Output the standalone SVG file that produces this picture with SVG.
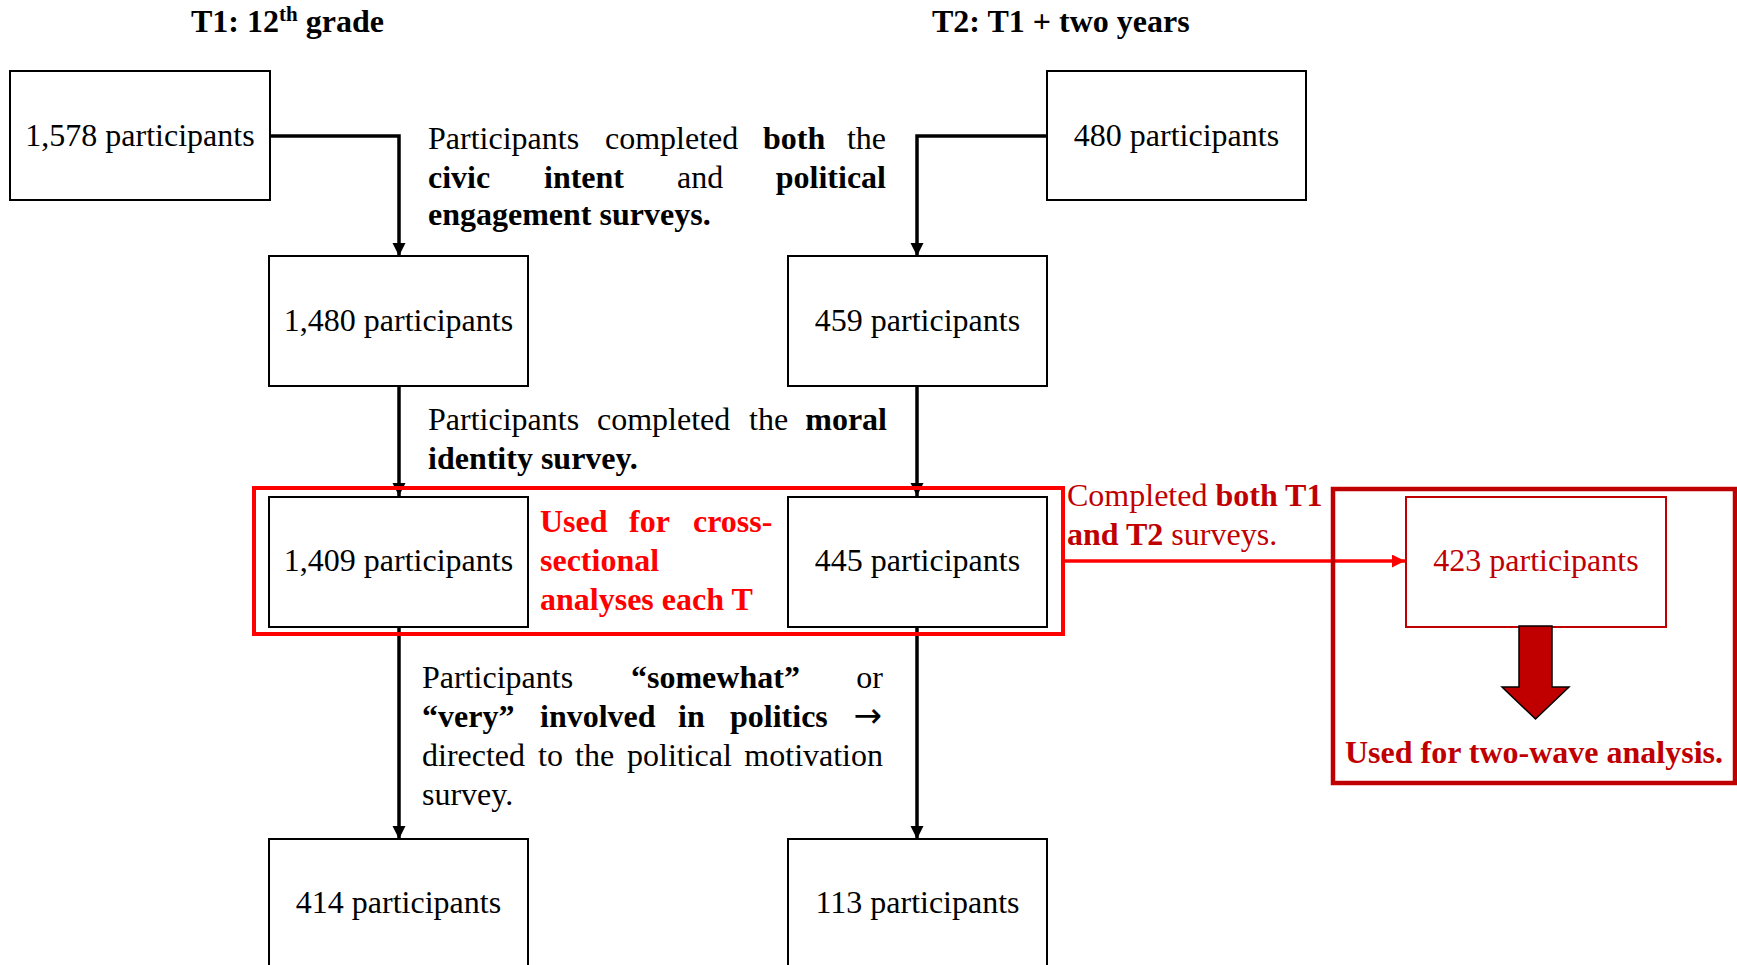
<svg xmlns="http://www.w3.org/2000/svg" width="1737" height="965" viewBox="0 0 1737 965">
<style>
text{font-family:"Liberation Serif","Times New Roman","DejaVu Serif",serif;font-size:32px;fill:#000}
.b{font-weight:bold}
.red{fill:#FF0000}
.dred{fill:#C00000}
.box{fill:#fff;stroke:#000;stroke-width:2}
.conn{fill:none;stroke:#000;stroke-width:3.5}
.mid{text-anchor:middle}
.end{text-anchor:end}
.arr{font-family:"DejaVu Sans",sans-serif;font-size:34px}
</style>
<defs>
<marker id="ah" markerUnits="userSpaceOnUse" markerWidth="14" markerHeight="14" refX="13" refY="6.5" orient="auto" viewBox="0 0 14 14">
<path d="M0,0 L13,6.5 L0,13 z" fill="#000"/>
</marker>
<marker id="ahr" markerUnits="userSpaceOnUse" markerWidth="14" markerHeight="14" refX="13" refY="6.5" orient="auto" viewBox="0 0 14 14">
<path d="M0,0 L13,6.5 L0,13 z" fill="#FF0000"/>
</marker>
</defs>
<rect width="1737" height="965" fill="#fff"/>

<g id="titles">
<text class="b" x="191" y="32">T1: 12<tspan font-size="21" dy="-11">th</tspan><tspan dy="11"> grade</tspan></text>
<text class="b" x="932" y="32">T2: T1 + two years</text>
</g>

<g id="connectors">
<path class="conn" d="M270,136 H399 V256" marker-end="url(#ah)"/>
<path class="conn" d="M1047,136 H917 V256" marker-end="url(#ah)"/>
<path class="conn" d="M399,386 V496" marker-end="url(#ah)"/>
<path class="conn" d="M917,386 V496" marker-end="url(#ah)"/>
<path class="conn" d="M399,627 V839" marker-end="url(#ah)"/>
<path class="conn" d="M917,627 V839" marker-end="url(#ah)"/>
<path d="M1063,561 H1405" fill="none" stroke="#FF0000" stroke-width="3.5" marker-end="url(#ahr)"/>
</g>

<g id="cross-sectional-group">
<rect x="254" y="488" width="809" height="146" fill="none" stroke="#FF0000" stroke-width="4"/>
<text class="b red" y="532"><tspan x="540">Used</tspan><tspan x="629">for</tspan><tspan x="693">cross-</tspan></text>
<text class="b red" x="540" y="571">sectional</text>
<text class="b red" x="540" y="610">analyses each T</text>
</g>

<g id="n1578">
<rect class="box" x="10" y="71" width="260" height="129"/>
<text class="mid" x="140" y="146">1,578 participants</text>
</g>
<g id="n480">
<rect class="box" x="1047" y="71" width="259" height="129"/>
<text class="mid" x="1176.5" y="146">480 participants</text>
</g>
<g id="n1480">
<rect class="box" x="269" y="256" width="259" height="130"/>
<text class="mid" x="398.5" y="331">1,480 participants</text>
</g>
<g id="n459">
<rect class="box" x="788" y="256" width="259" height="130"/>
<text class="mid" x="917.5" y="331">459 participants</text>
</g>
<g id="n1409">
<rect class="box" x="269" y="497" width="259" height="130"/>
<text class="mid" x="398.5" y="571">1,409 participants</text>
</g>
<g id="n445">
<rect class="box" x="788" y="497" width="259" height="130"/>
<text class="mid" x="917.5" y="571">445 participants</text>
</g>
<g id="n414">
<rect class="box" x="269" y="839" width="259" height="130"/>
<text class="mid" x="398.5" y="913">414 participants</text>
</g>
<g id="n113">
<rect class="box" x="788" y="839" width="259" height="130"/>
<text class="mid" x="917.5" y="913">113 participants</text>
</g>

<g id="label-top">
<text y="149"><tspan x="428">Participants</tspan><tspan x="605">completed</tspan><tspan x="763" class="b">both</tspan><tspan x="886" class="end">the</tspan></text>
<text y="188"><tspan x="428" class="b">civic</tspan><tspan x="544" class="b">intent</tspan><tspan x="677">and</tspan><tspan x="886" class="b end">political</tspan></text>
<text class="b" x="428" y="225">engagement surveys.</text>
</g>

<g id="label-moral">
<text y="430"><tspan x="428">Participants</tspan><tspan x="597">completed</tspan><tspan x="749">the</tspan><tspan x="887" class="b end">moral</tspan></text>
<text class="b" x="428" y="469">identity survey.</text>
</g>

<g id="label-politics">
<text y="688"><tspan x="422">Participants</tspan><tspan x="631" class="b">“somewhat”</tspan><tspan x="883" class="end">or</tspan></text>
<text y="727"><tspan x="422" class="b">“very”</tspan><tspan x="540" class="b">involved</tspan><tspan x="678" class="b">in</tspan><tspan x="730" class="b">politics</tspan><tspan x="882" class="arr end">→</tspan></text>
<text y="766"><tspan x="422">directed</tspan><tspan x="538">to</tspan><tspan x="575">the</tspan><tspan x="627">political</tspan><tspan x="883" class="end">motivation</tspan></text>
<text x="422" y="805">survey.</text>
</g>

<g id="label-both">
<text class="dred" x="1067" y="506">Completed <tspan class="b">both T1</tspan></text>
<text class="dred" x="1067" y="545"><tspan class="b">and T2</tspan> surveys.</text>
</g>

<g id="two-wave-group">
<rect x="1333" y="489" width="402" height="294" fill="none" stroke="#C00000" stroke-width="4.5"/>
<g id="n423">
<rect x="1406" y="497" width="260" height="130" fill="#fff" stroke="#C00000" stroke-width="2"/>
<text class="mid dred" x="1536" y="571">423 participants</text>
</g>
<polygon points="1519,626 1552,626 1552,687 1569,687 1535.5,719 1502,687 1519,687" fill="#C00000" stroke="#000" stroke-width="1.5"/>
<text class="mid b dred" x="1534" y="763">Used for two-wave analysis.</text>
</g>
</svg>
